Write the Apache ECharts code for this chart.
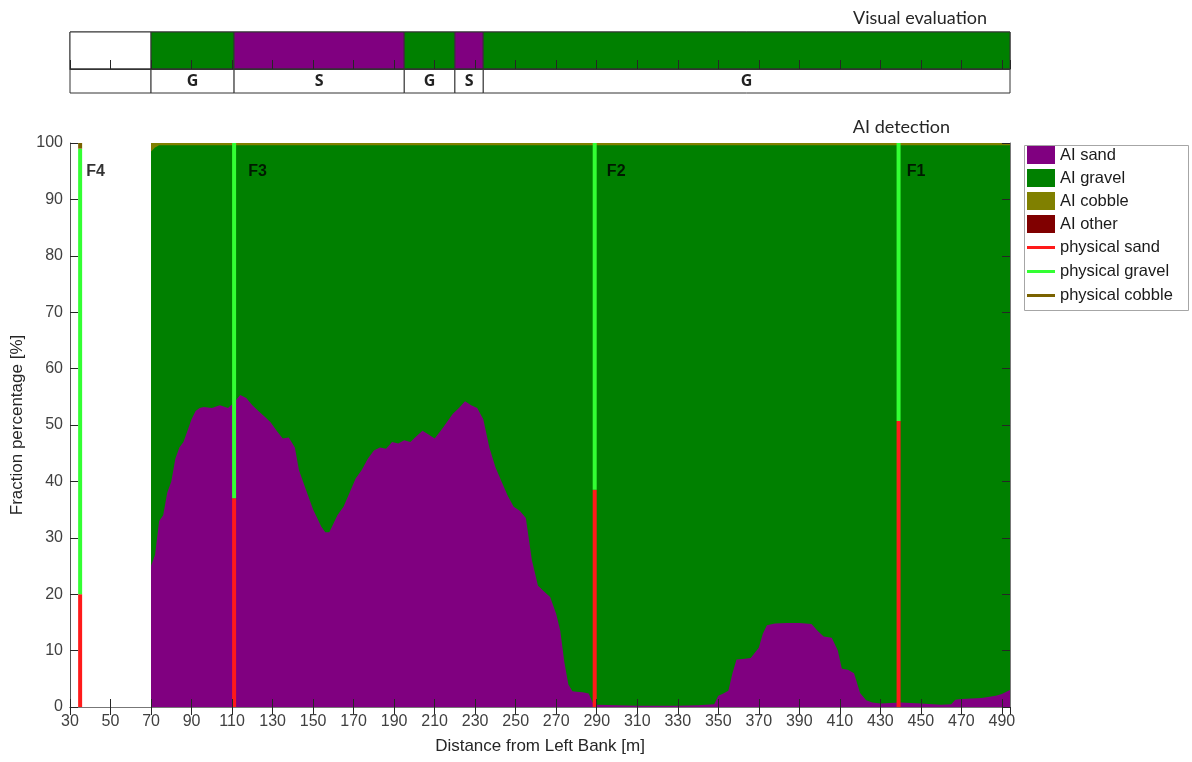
<!DOCTYPE html>
<html><head><meta charset="utf-8">
<script src="https://cdn.jsdelivr.net/npm/echarts@6/dist/echarts.min.js"></script>
<style>html,body{margin:0;padding:0;background:#fff}#c{width:1192px;height:762px}</style>
</head><body><div id="c"></div>
<script>
// ---- AI detection (stacked fractions, %) ----
const distance = [
  70,72,74,76,78,80,82,84,86,88,
  90,92,94,96,100,104,108,111,114,117,
  120,123,126,129,132,135,138,141,143,145,
  147,150,152,154,156,158,160,162,165,168,
  171,174,177,180,183,186,189,192,195,198,
  201,204,207,210,213,216,219,222,225,228,
  231,234,237,240,243,246,249,252,255,258,
  261,264,267,270,272,274,276,278,280,283,
  286,288,290,300,310,320,330,340,348,350,
  352,355,357,359,362,366,370,372,374,378,
  384,390,396,399,402,406,409,411,414,417,
  420,423,426,430,440,450,460,465,467,470,
  480,487,490,494
];
const aiSand = [
  25,27,33,34,38,40,44,46,47,49,
  51,52.5,53,53.2,53,53.5,53,54,55.3,54.8,
  53.5,52.5,51.5,50.5,49,47.6,47.8,46,42,40,
  38,35,33.5,32,31,31,32.5,34,35.5,38,
  40.5,42,44,45.5,46,45.8,47,46.7,47.3,47,
  48,49,48.3,47.6,49,50.5,52,53,54.2,53.5,
  53,51,46,42.5,40,37.5,35.5,34.8,33.5,26,
  21.5,20.5,19.5,16.5,13.5,8,4,2.8,2.7,2.6,
  2.4,0.8,0.4,0.3,0.2,0.2,0.2,0.3,0.5,2,
  2.3,2.9,6,8.4,8.5,8.7,10.5,13,14.5,14.8,
  14.9,14.9,14.7,13.5,12.5,12.3,10,6.8,6.6,6,
  2.5,1.2,0.8,0.6,0.8,0.6,0.4,0.5,1.3,1.4,
  1.6,2,2.3,3
];
const aiGravel = [
  73.5,72.2,66.6,65.6,61.6,59.6,55.6,53.6,52.6,50.6,
  48.6,47.1,46.6,46.4,46.6,46.1,46.6,45.6,44.3,44.8,
  46.1,47.1,48.1,49.1,50.6,52,51.8,53.6,57.6,59.6,
  61.6,64.6,66.1,67.6,68.6,68.6,67.1,65.6,64.1,61.6,
  59.1,57.6,55.6,54.1,53.6,53.8,52.6,52.9,52.3,52.6,
  51.6,50.6,51.3,52,50.6,49.1,47.6,46.6,45.4,46.1,
  46.6,48.6,53.6,57.1,59.6,62.1,64.1,64.8,66.1,73.6,
  78.1,79.1,80.1,83.1,86.1,91.6,95.6,96.8,96.9,97,
  97.2,98.8,99.2,99.3,99.4,99.4,99.4,99.3,99.1,97.6,
  97.3,96.7,93.6,91.2,91.1,90.9,89.1,86.6,85.1,84.8,
  84.7,84.7,84.9,86.1,87.1,87.3,89.6,92.8,93,93.6,
  97.1,98.4,98.8,99,98.8,99,99.2,99.1,98.3,98.2,
  98,97.6,97.3,96.6
];
const aiCobble = [
  1.5,0.8,0.4,0.4,0.4,0.4,0.4,0.4,0.4,0.4,
  0.4,0.4,0.4,0.4,0.4,0.4,0.4,0.4,0.4,0.4,
  0.4,0.4,0.4,0.4,0.4,0.4,0.4,0.4,0.4,0.4,
  0.4,0.4,0.4,0.4,0.4,0.4,0.4,0.4,0.4,0.4,
  0.4,0.4,0.4,0.4,0.4,0.4,0.4,0.4,0.4,0.4,
  0.4,0.4,0.4,0.4,0.4,0.4,0.4,0.4,0.4,0.4,
  0.4,0.4,0.4,0.4,0.4,0.4,0.4,0.4,0.4,0.4,
  0.4,0.4,0.4,0.4,0.4,0.4,0.4,0.4,0.4,0.4,
  0.4,0.4,0.4,0.4,0.4,0.4,0.4,0.4,0.4,0.4,
  0.4,0.4,0.4,0.4,0.4,0.4,0.4,0.4,0.4,0.4,
  0.4,0.4,0.4,0.4,0.4,0.4,0.4,0.4,0.4,0.4,
  0.4,0.4,0.4,0.4,0.4,0.4,0.4,0.4,0.4,0.4,
  0.4,0.4,0.4,0.4
];
const aiOther = [
  0,0,0,0,0,0,0,0,0,0,
  0,0,0,0,0,0,0,0,0,0,
  0,0,0,0,0,0,0,0,0,0,
  0,0,0,0,0,0,0,0,0,0,
  0,0,0,0,0,0,0,0,0,0,
  0,0,0,0,0,0,0,0,0,0,
  0,0,0,0,0,0,0,0,0,0,
  0,0,0,0,0,0,0,0,0,0,
  0,0,0,0,0,0,0,0,0,0,
  0,0,0,0,0,0,0,0,0,0,
  0,0,0,0,0,0,0,0,0,0,
  0,0,0,0,0,0,0,0,0,0,
  0,0,0,0
];

// ---- physical samples ----
const profileNames = ['F4','F3','F2','F1'];
const profileDistance = [35,111,289,439];
const profileLabelDistance = [38,118,295,443];
const physSand = [20,37,38.5,50.7];
const physGravel = [79,63,61.5,49.3];
const physCobble = [1,0,0,0];

// ---- visual evaluation ----
const visStart = [30,70,111,195,220,234];
const visEnd = [70,111,195,220,234,494];
const visClass = ['','G','S','G','S','G'];

const C = {sand:'#800080', gravel:'#008000', cobble:'#808000', other:'#800000',
           pSand:'#ff1a1a', pGravel:'#33ff33', pCobble:'#7a6200'};
const classColor = {'':'#ffffff', G:C.gravel, S:C.sand};
const FONT = '"Liberation Sans", Arial, sans-serif';

// cumulative layer tops (stacking done here, drawn top layer first)
const cumTop = arrs => distance.map((d,i)=>[d, arrs.reduce((s,a)=>s+a[i],0)]);
const areaSeries = (name, data, color) => ({
  name, type:'line', data, symbol:'none', showSymbol:false,
  lineStyle:{width:0, color}, itemStyle:{color}, areaStyle:{color, opacity:1, origin:'start'},
  xAxisIndex:0, yAxisIndex:0, animation:false, silent:true
});
// physical segments: [distance, low, high]
const physLayer = k => {
  const layers = [physSand, physGravel, physCobble];
  return profileDistance.map((d,i)=>{
    let lo = 0; for (let j=0;j<k;j++) lo += layers[j][i];
    return [d, lo, lo + layers[k][i]];
  });
};
const physSeries = (name, k, color) => ({
  name, type:'custom', xAxisIndex:0, yAxisIndex:0, z:3, silent:true,
  itemStyle:{color}, data: physLayer(k), encode:{x:0, y:[1,2]},
  renderItem:function(params, api){
    const lo = api.coord([api.value(0), api.value(1)]);
    const hi = api.coord([api.value(0), api.value(2)]);
    if (hi[1] >= lo[1]) return null;
    return {type:'rect', shape:{x:lo[0]-2, y:hi[1], width:4, height:lo[1]-hi[1]}, style:{fill:color}};
  }
});

const chart = echarts.init(document.getElementById('c'), null, {renderer:'canvas'});
const tickStyle = {show:true, inside:true, length:8, lineStyle:{color:'#262626', width:1}};
chart.setOption({
  animation:false,
  textStyle:{fontFamily:FONT},
  grid:[
    {left:70, right:182, top:143, bottom:55},
    {left:70, right:182, top:32, height:37, show:true, borderColor:'#333', borderWidth:1},
    {left:70, right:182, top:69, height:24}
  ],
  xAxis:[
    {type:'value', gridIndex:0, min:30, max:494, interval:20, z:5,
     name:'Distance from Left Bank [m]', nameLocation:'middle', nameGap:31,
     nameTextStyle:{fontSize:17, color:'#262626', fontFamily:FONT},
     axisLine:{show:true, lineStyle:{color:'#555', width:1}}, axisTick:tickStyle,
     axisLabel:{fontSize:16, color:'#404040', margin:7, showMaxLabel:false, fontFamily:FONT},
     splitLine:{show:false}},
    {type:'value', gridIndex:0, position:'top', min:30, max:494, interval:20, z:5,
     axisLine:{show:true, lineStyle:{color:'#777', width:1}}, axisTick:tickStyle,
     axisLabel:{show:false}, splitLine:{show:false}},
    {type:'value', gridIndex:1, min:30, max:494, interval:20, z:5,
     axisLine:{show:true, lineStyle:{color:'#333', width:1}},
     axisTick:{show:true, inside:true, length:9, lineStyle:{color:'#262626'}},
     axisLabel:{show:false}, splitLine:{show:false}},
    {type:'value', gridIndex:2, min:30, max:494, show:false}
  ],
  yAxis:[
    {type:'value', gridIndex:0, min:0, max:100, interval:10, z:5,
     name:'Fraction percentage [%]', nameLocation:'middle', nameGap:43,
     nameTextStyle:{fontSize:17, color:'#262626', fontFamily:FONT},
     axisLine:{show:true, lineStyle:{color:'#555', width:1}}, axisTick:tickStyle,
     axisLabel:{fontSize:16, color:'#404040', margin:7, fontFamily:FONT}, splitLine:{show:false}},
    {type:'value', gridIndex:0, position:'right', min:0, max:100, interval:10, z:5,
     axisLine:{show:true, lineStyle:{color:'#777', width:1}}, axisTick:tickStyle,
     axisLabel:{show:false}, splitLine:{show:false}},
    {type:'value', gridIndex:1, min:0, max:1, show:false},
    {type:'value', gridIndex:2, min:0, max:1, show:false}
  ],
  legend:[
    {data:['AI sand','AI gravel','AI cobble','AI other'], orient:'vertical', left:1027, top:146,
     itemWidth:28, itemHeight:18, itemGap:5, icon:'rect', padding:0, selectedMode:false,
     textStyle:{fontSize:16.5, color:'#1a1a1a', fontFamily:FONT}},
    {data:['physical sand','physical gravel','physical cobble'], orient:'vertical', left:1027, top:239,
     itemWidth:28, itemHeight:3, itemGap:7, icon:'rect', padding:0, selectedMode:false,
     textStyle:{fontSize:16.5, color:'#1a1a1a', fontFamily:FONT}}
  ],
  graphic:[
    {type:'rect', left:1022, top:143, shape:{width:164, height:165}, style:{fill:'none', stroke:'#a6a6a6', lineWidth:1}, z:-1},
    {type:'text', right:1192-987, top:9, style:{text:'Visual evaluation', font:'18px Lato, "Open Sans", sans-serif', fill:'#262626'}},
    {type:'text', right:1192-950, top:118, style:{text:'AI detection', font:'18px Lato, "Open Sans", sans-serif', fill:'#262626'}}
  ],
  series:[
    areaSeries('AI other', cumTop([aiSand, aiGravel, aiCobble, aiOther]), C.other),
    areaSeries('AI cobble', cumTop([aiSand, aiGravel, aiCobble]), C.cobble),
    areaSeries('AI gravel', cumTop([aiSand, aiGravel]), C.gravel),
    areaSeries('AI sand', cumTop([aiSand]), C.sand),
    physSeries('physical sand', 0, C.pSand),
    physSeries('physical gravel', 1, C.pGravel),
    physSeries('physical cobble', 2, C.pCobble),
    {type:'scatter', xAxisIndex:0, yAxisIndex:0, symbolSize:0, z:6, silent:true,
     data: profileNames.map((n,i)=>({name:n, value:[profileLabelDistance[i], 95]})),
     label:{show:true, position:'right', distance:0, formatter:'{b}', fontSize:16, fontWeight:'bold', color:'#000', fontFamily:FONT}},
    {type:'custom', xAxisIndex:2, yAxisIndex:2, silent:true,
     data: visStart.map((s,i)=>[s, visEnd[i], i]),
     encode:{x:[0,1]},
     renderItem:function(params, api){
       const a = api.coord([api.value(0), 1]);
       const b = api.coord([api.value(1), 0]);
       const cls = visClass[api.value(2)];
       return {type:'rect', shape:{x:a[0], y:a[1], width:b[0]-a[0], height:b[1]-a[1]},
               style:{fill:classColor[cls], stroke:'#333', lineWidth:1}};
     }},
    {type:'custom', xAxisIndex:3, yAxisIndex:3, silent:true,
     data: visStart.map((s,i)=>[s, visEnd[i], i]),
     encode:{x:[0,1]},
     renderItem:function(params, api){
       const a = api.coord([api.value(0), 1]);
       const b = api.coord([api.value(1), 0]);
       const cls = visClass[api.value(2)];
       return {type:'group', children:[
         {type:'rect', shape:{x:a[0], y:a[1], width:b[0]-a[0], height:b[1]-a[1]},
          style:{fill:'#fff', stroke:'#333', lineWidth:1}},
         {type:'text', style:{text:cls, x:(a[0]+b[0])/2, y:(a[1]+b[1])/2, align:'center', verticalAlign:'middle',
          font:'bold 16px "Open Sans", sans-serif', fill:'#222'}}
       ]};
     }}
  ]
});
</script>
</body></html>
